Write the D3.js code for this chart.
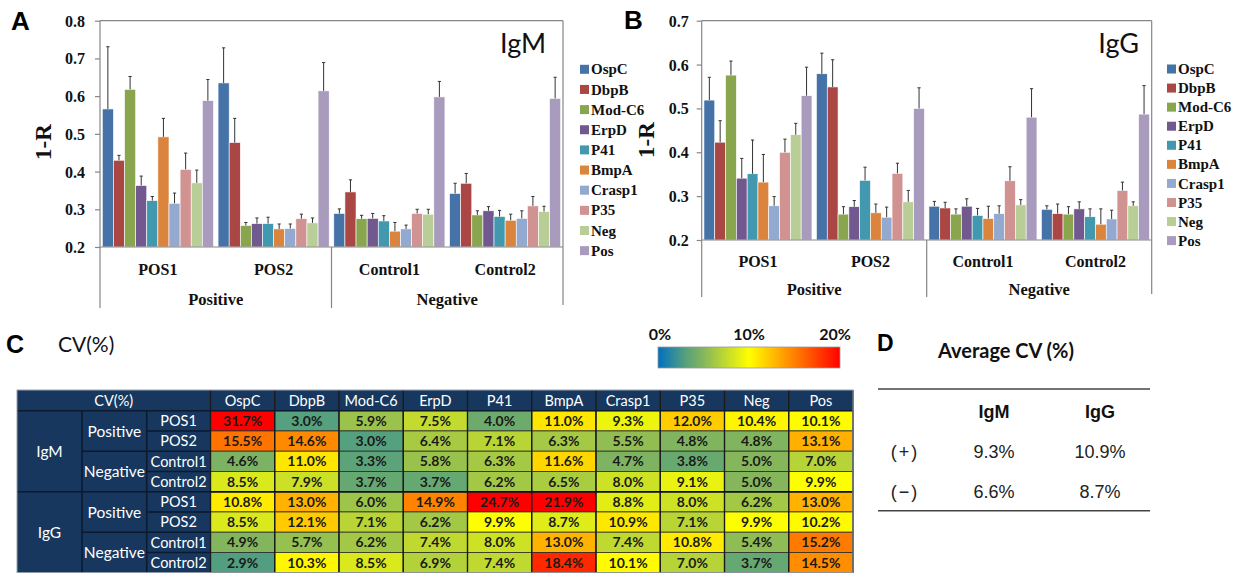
<!DOCTYPE html>
<html>
<head>
<meta charset="utf-8">
<script src="https://cdn.jsdelivr.net/npm/d3@7"></script>
<style>
body { margin: 0; background: #fff; }
svg { display: block; }
.serif { font-family: "Liberation Serif", "Times New Roman", serif; font-weight: bold; fill: #111; }
.sans { font-family: Lato, "Open Sans", sans-serif; }
.arial { font-family: "Liberation Sans", Arial, sans-serif; }
</style>
</head>
<body>
<svg id="fig" width="1241" height="573"></svg>
<script>
// ---- data ----
const antigens = ["OspC", "DbpB", "Mod-C6", "ErpD", "P41", "BmpA", "Crasp1", "P35", "Neg", "Pos"]
const samples = ["POS1", "POS2", "Control1", "Control2"]
const sampleGroups = ["Positive", "Negative"]
const isotypes = ["IgM", "IgG"]

const igmTicks = [0.2, 0.3, 0.4, 0.5, 0.6, 0.7, 0.8]
const iggTicks = [0.2, 0.3, 0.4, 0.5, 0.6, 0.7]

const igmMean = [
    [0.566, 0.430, 0.618, 0.363, 0.323, 0.492, 0.316, 0.406, 0.370, 0.588],
    [0.635, 0.477, 0.257, 0.262, 0.262, 0.248, 0.249, 0.275, 0.264, 0.614],
    [0.289, 0.346, 0.275, 0.276, 0.269, 0.242, 0.248, 0.289, 0.287, 0.598],
    [0.342, 0.369, 0.285, 0.296, 0.281, 0.271, 0.276, 0.309, 0.294, 0.594]
]
const igmErr = [
    [0.165, 0.013, 0.034, 0.025, 0.011, 0.049, 0.027, 0.043, 0.034, 0.056],
    [0.093, 0.064, 0.008, 0.015, 0.017, 0.013, 0.012, 0.012, 0.013, 0.075],
    [0.012, 0.032, 0.009, 0.013, 0.014, 0.023, 0.010, 0.011, 0.013, 0.041],
    [0.027, 0.026, 0.011, 0.011, 0.016, 0.016, 0.020, 0.025, 0.014, 0.056]
]
const iggMean = [
    [0.519, 0.423, 0.576, 0.341, 0.351, 0.332, 0.278, 0.400, 0.440, 0.529],
    [0.579, 0.549, 0.259, 0.276, 0.336, 0.262, 0.252, 0.352, 0.287, 0.500],
    [0.277, 0.273, 0.259, 0.277, 0.256, 0.249, 0.260, 0.335, 0.280, 0.480],
    [0.270, 0.260, 0.259, 0.271, 0.253, 0.236, 0.248, 0.313, 0.278, 0.487]
]
const iggErr = [
    [0.052, 0.049, 0.032, 0.045, 0.077, 0.063, 0.021, 0.030, 0.026, 0.065],
    [0.047, 0.062, 0.017, 0.014, 0.030, 0.020, 0.023, 0.023, 0.026, 0.047],
    [0.011, 0.013, 0.012, 0.017, 0.016, 0.028, 0.018, 0.032, 0.012, 0.065],
    [0.008, 0.022, 0.017, 0.016, 0.018, 0.035, 0.020, 0.019, 0.009, 0.065]
]

// CV (%) table, rows: POS1, POS2, Control1, Control2
const cvIgM = [
    [31.7, 3.0, 5.9, 7.5, 4.0, 11.0, 9.3, 12.0, 10.4, 10.1],
    [15.5, 14.6, 3.0, 6.4, 7.1, 6.3, 5.5, 4.8, 4.8, 13.1],
    [4.6, 11.0, 3.3, 5.8, 6.3, 11.6, 4.7, 3.8, 5.0, 7.0],
    [8.5, 7.9, 3.7, 3.7, 6.2, 6.5, 8.0, 9.1, 5.0, 9.9]
]
const cvIgG = [
    [10.8, 13.0, 6.0, 14.9, 24.7, 21.9, 8.8, 8.0, 6.2, 13.0],
    [8.5, 12.1, 7.1, 6.2, 9.9, 8.7, 10.9, 7.1, 9.9, 10.2],
    [4.9, 5.7, 6.2, 7.4, 8.0, 13.0, 7.4, 10.8, 5.4, 15.2],
    [2.9, 10.3, 8.5, 6.9, 7.4, 18.4, 10.1, 7.0, 3.7, 14.5]
]
const legendTicks = [0, 10, 20]

const avgRows = ["(+)", "(\u2212)"]
const avgIgM = [9.3, 6.6]
const avgIgG = [10.9, 8.7]

// ---- styles ----
const barColors = ["#4572A7", "#AA4643", "#89A54E", "#71588F", "#4198AF", "#DB843D", "#93A9CF", "#D19392", "#B9CD96", "#A99BBD"]
const axisGrey = "#868686"
const navy = "#17375E"
const serifFont = '"Liberation Serif", "Times New Roman", serif'

const svg = d3.select("#fig")

const colorScale = d3.scaleLinear()
    .domain([0, 3, 5, 10, 15, 20])
    .range(["#0070C0", "#55A07E", "#85B65C", "#FFFF00", "#FF8000", "#FF0000"])
    .clamp(true)

// ---- bar panels ----
function barPanel(cfg) {
    const g = svg.append("g")

    const x0 = d3.scaleBand()
        .domain(samples)
        .range([cfg.left, cfg.right])
        .paddingInner(0.04)
        .paddingOuter(0.02)

    const x1 = d3.scaleBand()
        .domain(antigens)
        .range([0, x0.bandwidth()])

    const y = d3.scaleLinear()
        .domain([cfg.ticks[0], cfg.ticks[cfg.ticks.length - 1]])
        .range([cfg.bottom, cfg.top])

    const groups = g.selectAll("g.sample")
        .data(samples)
        .enter()
        .append("g")
        .attr("transform", d => `translate(${x0(d)}, 0)`)

    groups.selectAll("rect")
        .data((d, i) => cfg.means[i].map((v, j) => ({ a: antigens[j], v: v, e: cfg.errs[i][j] })))
        .enter()
        .append("rect")
        .attr("x", d => x1(d.a))
        .attr("y", d => y(d.v))
        .attr("width", x1.bandwidth())
        .attr("height", d => y(cfg.ticks[0]) - y(d.v))
        .style("fill", (d, j) => barColors[j])
        .style("stroke", "#fff")
        .style("stroke-width", 0.6)

    const err = groups.selectAll("g.err")
        .data((d, i) => cfg.means[i].map((v, j) => ({ a: antigens[j], v: v, e: cfg.errs[i][j] })))
        .enter()
        .append("g")
        .style("stroke", "#333")
        .style("stroke-width", 1)

    err.append("line")
        .attr("x1", d => x1(d.a) + x1.bandwidth() / 2)
        .attr("x2", d => x1(d.a) + x1.bandwidth() / 2)
        .attr("y1", d => y(d.v))
        .attr("y2", d => y(d.v + d.e))

    err.append("line")
        .attr("x1", d => x1(d.a) + x1.bandwidth() / 2 - 1.6)
        .attr("x2", d => x1(d.a) + x1.bandwidth() / 2 + 1.6)
        .attr("y1", d => y(d.v + d.e))
        .attr("y2", d => y(d.v + d.e))

    // frame and category axis lines
    const sep = x0(samples[2]) - x0.step() * x0.paddingInner() / 2
    const frame = g.append("g").style("stroke", axisGrey).style("stroke-width", 1.2).style("fill", "none")
    frame.append("line").attr("x1", cfg.left).attr("x2", cfg.right).attr("y1", cfg.top).attr("y2", cfg.top)
    frame.append("line").attr("x1", cfg.right).attr("x2", cfg.right).attr("y1", cfg.top).attr("y2", cfg.catBottom - 3)
    frame.append("line").attr("x1", cfg.left).attr("x2", cfg.left).attr("y1", cfg.top).attr("y2", cfg.catBottom)
    frame.append("line").attr("x1", cfg.left).attr("x2", cfg.right).attr("y1", cfg.bottom).attr("y2", cfg.bottom)
    frame.append("line").attr("x1", sep).attr("x2", sep).attr("y1", cfg.bottom).attr("y2", cfg.catBottom)

    const axis = g.append("g")
        .attr("transform", `translate(${cfg.left}, 0)`)
        .call(d3.axisLeft(y).tickValues(cfg.ticks).tickFormat(d3.format(".1f")).tickSize(5).tickSizeOuter(0).tickPadding(cfg.tickPad))
    axis.attr("font-family", null)
    axis.select(".domain").remove()
    axis.selectAll("line").style("stroke", axisGrey).style("stroke-width", 1.2)
    axis.selectAll("text")
        .style("font-family", serifFont)
        .style("font-weight", "bold")
        .style("fill", "#111")
        .style("font-size", "16px")
        .attr("dy", "0.34em")

    g.selectAll("text.sample")
        .data(samples)
        .enter()
        .append("text")
        .attr("class", "serif")
        .attr("x", d => x0(d) + x0.bandwidth() / 2)
        .attr("y", cfg.sampleY)
        .attr("text-anchor", "middle")
        .style("font-size", "16px")
        .text(d => d)

    const groupCenters = [(cfg.left + sep) / 2, (sep + cfg.right) / 2]
    g.selectAll("text.grp")
        .data(sampleGroups)
        .enter()
        .append("text")
        .attr("class", "serif")
        .attr("x", (d, i) => groupCenters[i])
        .attr("y", cfg.groupY)
        .attr("text-anchor", "middle")
        .style("font-size", "16.5px")
        .text(d => d)

    g.append("text")
        .attr("transform", `translate(${cfg.yLabelX}, ${cfg.yLabelY}) rotate(-90)`)
        .attr("text-anchor", "middle")
        .attr("dy", "0.35em")
        .style("font-family", serifFont)
        .style("font-weight", "bold")
        .style("fill", "#111")
        .style("font-size", "23px")
        .text("1-R")

    g.append("text")
        .attr("class", "sans")
        .attr("x", cfg.titleX)
        .attr("y", 53)
        .attr("text-anchor", "end")
        .style("font-size", "27px")
        .style("fill", "#111")
        .text(cfg.title)

    const legend = g.selectAll("g.leg")
        .data(antigens)
        .enter()
        .append("g")
        .attr("transform", (d, i) => `translate(${cfg.legX}, ${cfg.legY + i * cfg.legStep})`)
    legend.append("rect")
        .attr("x", 0).attr("y", -4.5).attr("width", 9).attr("height", 9)
        .style("fill", (d, i) => barColors[i])
    legend.append("text")
        .attr("class", "serif")
        .attr("x", 11)
        .attr("dy", "0.34em")
        .style("font-size", "15px")
        .text(d => d)

    g.append("text")
        .attr("class", "arial")
        .attr("x", cfg.letterX)
        .attr("y", cfg.letterY)
        .style("font-size", "26px")
        .style("font-weight", "bold")
        .text(cfg.letter)
}

barPanel({
    left: 100, right: 563, top: 20.7, bottom: 247, catBottom: 308,
    ticks: igmTicks, means: igmMean, errs: igmErr, tickPad: 10,
    sampleY: 275, groupY: 305, yLabelX: 43, yLabelY: 142,
    title: "IgM", titleX: 546,
    legX: 580, legY: 69.3, legStep: 20.15,
    letter: "A", letterX: 11, letterY: 30
})

barPanel({
    left: 701.7, right: 1151.7, top: 20.7, bottom: 240, catBottom: 297,
    ticks: iggTicks, means: iggMean, errs: iggErr, tickPad: 8,
    sampleY: 267, groupY: 295, yLabelX: 646, yLabelY: 140,
    title: "IgG", titleX: 1139,
    legX: 1167, legY: 69, legStep: 19.07,
    letter: "B", letterX: 624, letterY: 29
})

// ---- panel C: CV table ----
const tLeft = 17, c1 = 82, c2 = 146.7, c3 = 210.5, colW = 64.25
const hTop = 390, hBot = 410.7, rowH = 20.25
const cvRows = []
isotypes.forEach((iso, k) => {
    const vals = k === 0 ? cvIgM : cvIgG
    samples.forEach((s, r) => cvRows.push({ iso: iso, grp: sampleGroups[Math.floor(r / 2)], sample: s, vals: vals[r] }))
})
const tBottom = hBot + rowH * cvRows.length
const tRight = c3 + colW * antigens.length

const tg = svg.append("g")
tg.append("rect").attr("x", tLeft).attr("y", hTop).attr("width", c3 - tLeft).attr("height", tBottom - hTop).style("fill", navy)
tg.append("rect").attr("x", c3).attr("y", hTop).attr("width", tRight - c3).attr("height", hBot - hTop).style("fill", navy)

const cells = tg.selectAll("g.row")
    .data(cvRows)
    .enter()
    .append("g")
    .attr("transform", (d, i) => `translate(0, ${hBot + i * rowH})`)

cells.selectAll("rect")
    .data(d => d.vals)
    .enter()
    .append("rect")
    .attr("x", (d, j) => c3 + j * colW)
    .attr("width", colW)
    .attr("height", rowH)
    .style("fill", d => colorScale(d))
    .style("stroke", "#2a2a2a")
    .style("stroke-width", 0.8)

cells.selectAll("text.v")
    .data(d => d.vals)
    .enter()
    .append("text")
    .attr("class", "sans")
    .attr("x", (d, j) => c3 + j * colW + colW / 2)
    .attr("y", rowH / 2)
    .attr("dy", "0.36em")
    .attr("text-anchor", "middle")
    .style("font-size", "14px")
    .style("font-weight", "bold")
    .style("fill", "#1a1a1a")
    .text(d => d3.format(".1f")(d) + "%")

// thicker column separators in data block
tg.selectAll("line.col")
    .data(d3.range(antigens.length + 1))
    .enter()
    .append("line")
    .attr("x1", j => c3 + j * colW).attr("x2", j => c3 + j * colW)
    .attr("y1", hTop).attr("y2", tBottom)
    .style("stroke", "#1b1b1b").style("stroke-width", 1.4)

// grid inside navy block
const navyLine = "#0b1a2e"
const nav = tg.append("g").style("stroke", navyLine).style("stroke-width", 1.5)
nav.append("line").attr("x1", tLeft).attr("x2", tRight).attr("y1", hBot).attr("y2", hBot)
;[c1, c2].forEach(x => nav.append("line").attr("x1", x).attr("x2", x).attr("y1", hBot).attr("y2", tBottom))
cvRows.forEach((d, i) => {
    if (i === 0) return
    const yy = hBot + i * rowH
    const x0 = i % 4 === 0 ? tLeft : (i % 2 === 0 ? c1 : c2)
    nav.append("line").attr("x1", x0).attr("x2", i % 4 === 0 ? tRight : c3).attr("y1", yy).attr("y2", yy)
})
tg.append("line").attr("x1", c3).attr("x2", tRight).attr("y1", hBot + 4 * rowH).attr("y2", hBot + 4 * rowH)
    .style("stroke", "#111").style("stroke-width", 1.6)
tg.append("rect").attr("x", tLeft).attr("y", hTop).attr("width", tRight - tLeft).attr("height", tBottom - hTop)
    .style("fill", "none").style("stroke", "#9aa3ad").style("stroke-width", 1)

const headSize = "14.5px"
tg.append("text").attr("class", "sans").attr("x", (tLeft + c3) / 2).attr("y", (hTop + hBot) / 2).attr("dy", "0.36em")
    .attr("text-anchor", "middle").style("fill", "#fff").style("font-size", headSize).text("CV(%)")
tg.selectAll("text.head")
    .data(antigens)
    .enter()
    .append("text")
    .attr("class", "sans")
    .attr("x", (d, j) => c3 + j * colW + colW / 2)
    .attr("y", (hTop + hBot) / 2)
    .attr("dy", "0.36em")
    .attr("text-anchor", "middle")
    .style("fill", "#fff")
    .style("font-size", headSize)
    .text(d => d)
cells.append("text")
    .attr("class", "sans")
    .attr("x", (c2 + c3) / 2).attr("y", rowH / 2).attr("dy", "0.36em")
    .attr("text-anchor", "middle").style("fill", "#fff").style("font-size", headSize)
    .text(d => d.sample)
cells.filter((d, i) => i % 2 === 0).append("text")
    .attr("class", "sans")
    .attr("x", (c1 + c2) / 2).attr("y", rowH).attr("dy", "0.36em")
    .attr("text-anchor", "middle").style("fill", "#fff").style("font-size", "15.5px")
    .text(d => d.grp)
cells.filter((d, i) => i % 4 === 0).append("text")
    .attr("class", "sans")
    .attr("x", (tLeft + c1) / 2).attr("y", rowH * 2).attr("dy", "0.36em")
    .attr("text-anchor", "middle").style("fill", "#fff").style("font-size", "15.5px")
    .text(d => d.iso)

svg.append("text").attr("class", "arial").attr("x", 6).attr("y", 353)
    .style("font-size", "25px").style("font-weight", "bold").text("C")
svg.append("text").attr("class", "sans").attr("x", 58).attr("y", 352)
    .style("font-size", "21px").style("fill", "#111").text("CV(%)")

// colour bar
const cbX = d3.scaleLinear().domain([legendTicks[0], legendTicks[2]]).range([658, 840])
const grad = svg.append("defs").append("linearGradient").attr("id", "cvgrad")
grad.selectAll("stop")
    .data(d3.range(0, 1.0001, 0.05))
    .enter()
    .append("stop")
    .attr("offset", d => d)
    .attr("stop-color", d => colorScale(d * legendTicks[2]))
svg.append("rect").attr("x", cbX(0)).attr("y", 347).attr("width", cbX(20) - cbX(0)).attr("height", 21)
    .style("fill", "url(#cvgrad)").style("stroke", "#999").style("stroke-width", 0.8)
svg.selectAll("text.cb")
    .data(legendTicks)
    .enter()
    .append("text")
    .attr("class", "sans")
    .attr("x", (d, i) => cbX(d) + [2, 0, -5][i])
    .attr("y", 340)
    .attr("text-anchor", "middle")
    .style("font-size", "16px")
    .style("font-weight", "bold")
    .style("fill", "#111")
    .text(d => d + "%")

// ---- panel D ----
svg.append("text").attr("class", "arial").attr("x", 877).attr("y", 351)
    .style("font-size", "23px").style("font-weight", "bold").text("D")
svg.append("text").attr("class", "sans").attr("x", 938).attr("y", 358)
    .style("font-size", "20px").style("font-weight", "bold").style("fill", "#111").text("Average CV (%)")

const dg = svg.append("g")
dg.selectAll("line.rule")
    .data([389, 510.7])
    .enter()
    .append("line")
    .attr("x1", 878).attr("x2", 1150)
    .attr("y1", d => d).attr("y2", d => d)
    .style("stroke", "#444").style("stroke-width", 1.6)

const dCols = [994, 1100]
dg.selectAll("text.dh")
    .data(isotypes)
    .enter()
    .append("text")
    .attr("class", "arial")
    .attr("x", (d, i) => dCols[i])
    .attr("y", 418)
    .attr("text-anchor", "middle")
    .style("font-size", "18px")
    .style("font-weight", "bold")
    .style("fill", "#111")
    .text(d => d)

const dRows = dg.selectAll("g.dr")
    .data(avgRows)
    .enter()
    .append("g")
    .attr("transform", (d, i) => `translate(0, ${458 + i * 40})`)
dRows.append("text")
    .attr("class", "arial")
    .attr("x", 905)
    .attr("text-anchor", "middle")
    .style("font-size", "18px")
    .style("letter-spacing", "2px")
    .style("fill", "#222")
    .text(d => d)
dRows.append("text")
    .attr("class", "arial")
    .attr("x", dCols[0])
    .attr("text-anchor", "middle")
    .style("font-size", "18px")
    .style("fill", "#222")
    .text((d, i) => avgIgM[i].toFixed(1) + "%")
dRows.append("text")
    .attr("class", "arial")
    .attr("x", dCols[1])
    .attr("text-anchor", "middle")
    .style("font-size", "18px")
    .style("fill", "#222")
    .text((d, i) => avgIgG[i].toFixed(1) + "%")
</script>
</body>
</html>
